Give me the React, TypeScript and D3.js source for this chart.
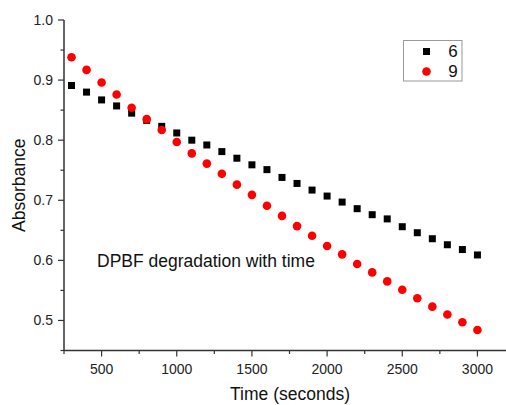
import * as d3 from 'd3';

const TIMES = [300, 400, 500, 600, 700, 800, 900, 1000, 1100, 1200, 1300, 1400, 1500, 1600, 1700, 1800, 1900, 2000, 2100, 2200, 2300, 2400, 2500, 2600, 2700, 2800, 2900, 3000];
const SERIES_6 = [0.891, 0.880, 0.867, 0.857, 0.845, 0.833, 0.823, 0.812, 0.800, 0.792, 0.781, 0.770, 0.759, 0.751, 0.738, 0.728, 0.717, 0.707, 0.697, 0.686, 0.676, 0.669, 0.656, 0.646, 0.636, 0.626, 0.618, 0.609];
const SERIES_9 = [0.938, 0.917, 0.896, 0.876, 0.854, 0.835, 0.817, 0.797, 0.778, 0.761, 0.744, 0.726, 0.709, 0.691, 0.674, 0.657, 0.641, 0.624, 0.610, 0.594, 0.580, 0.565, 0.551, 0.537, 0.523, 0.510, 0.497, 0.484];
const X_TICKS = [500, 1000, 1500, 2000, 2500, 3000];
const X_MINOR = [250, 750, 1250, 1750, 2250, 2750];
const Y_TICKS = [0.5, 0.6, 0.7, 0.8, 0.9, 1.0];
const Y_MINOR = [0.45, 0.55, 0.65, 0.75, 0.85, 0.95];

const W = 506;
const H = 405;
const FONT = 'Arial, "Liberation Sans", sans-serif';
const AXIS = '#333';

export default function App() {
  const x = d3.scaleLinear().domain([250, 3200]).range([64, 507.5]);
  const y = d3.scaleLinear().domain([0.45, 1.0]).range([350.5, 20]);
  const fmtY = d3.format('.1f');

  return (
    <svg width={W} height={H} style={{ position: 'absolute', left: 0, top: 0 }} fontFamily={FONT}>
      <rect width={W} height={H} fill="#fff" />

      {/* axes */}
      <line x1={x(250)} x2={W} y1={y(0.45)} y2={y(0.45)} stroke={AXIS} strokeWidth={1.5} />
      <line x1={x(250)} x2={x(250)} y1={y(0.45)} y2={y(1.0)} stroke={AXIS} strokeWidth={1.5} />

      {X_TICKS.map((t) => (
        <g key={t}>
          <line x1={x(t)} x2={x(t)} y1={y(0.45)} y2={y(0.45) + 6} stroke={AXIS} strokeWidth={1.2} />
          <text x={x(t)} y={y(0.45) + 23} textAnchor="middle" fontSize={14} fill="#222">{t}</text>
        </g>
      ))}
      {X_MINOR.map((t) => (
        <line key={t} x1={x(t)} x2={x(t)} y1={y(0.45)} y2={y(0.45) + 3.5} stroke={AXIS} strokeWidth={1.2} />
      ))}
      {Y_TICKS.map((t) => (
        <g key={t}>
          <line x1={x(250) - 6} x2={x(250)} y1={y(t)} y2={y(t)} stroke={AXIS} strokeWidth={1.2} />
          <text x={x(250) - 11} y={y(t)} dy="0.35em" textAnchor="end" fontSize={14} fill="#222">{fmtY(t)}</text>
        </g>
      ))}
      {Y_MINOR.map((t) => (
        <line key={t} x1={x(250) - 3.5} x2={x(250)} y1={y(t)} y2={y(t)} stroke={AXIS} strokeWidth={1.2} />
      ))}

      <text x={290} y={400} textAnchor="middle" fontSize={17.5} fill="#111">Time (seconds)</text>
      <text transform={`translate(25,${y(0.725)}) rotate(-90)`} textAnchor="middle" fontSize={17.5} fill="#111">Absorbance</text>

      <text x={97} y={y(0.6) + 6.5} fontSize={17.5} fill="#111">DPBF degradation with time</text>

      {/* series 6 */}
      {TIMES.map((t, i) => (
        <rect key={'s' + t} x={x(t) - 3.5} y={y(SERIES_6[i]) - 3.5} width={7} height={7} fill="#000" />
      ))}
      {/* series 9 */}
      {TIMES.map((t, i) => (
        <circle key={'c' + t} cx={x(t)} cy={y(SERIES_9[i])} r={4.3} fill="#f00" />
      ))}

      {/* legend */}
      <rect x={403.5} y={40.5} width={58.5} height={40.5} fill="#fff" stroke="#999" strokeWidth={1} />
      <rect x={423} y={48} width={7} height={7} fill="#000" />
      <text x={453} y={51.5} dy="0.35em" textAnchor="middle" fontSize={17} fill="#111">6</text>
      <circle cx={426.5} cy={71.5} r={4.3} fill="#f00" />
      <text x={453} y={71.5} dy="0.35em" textAnchor="middle" fontSize={17} fill="#111">9</text>
    </svg>
  );
}
